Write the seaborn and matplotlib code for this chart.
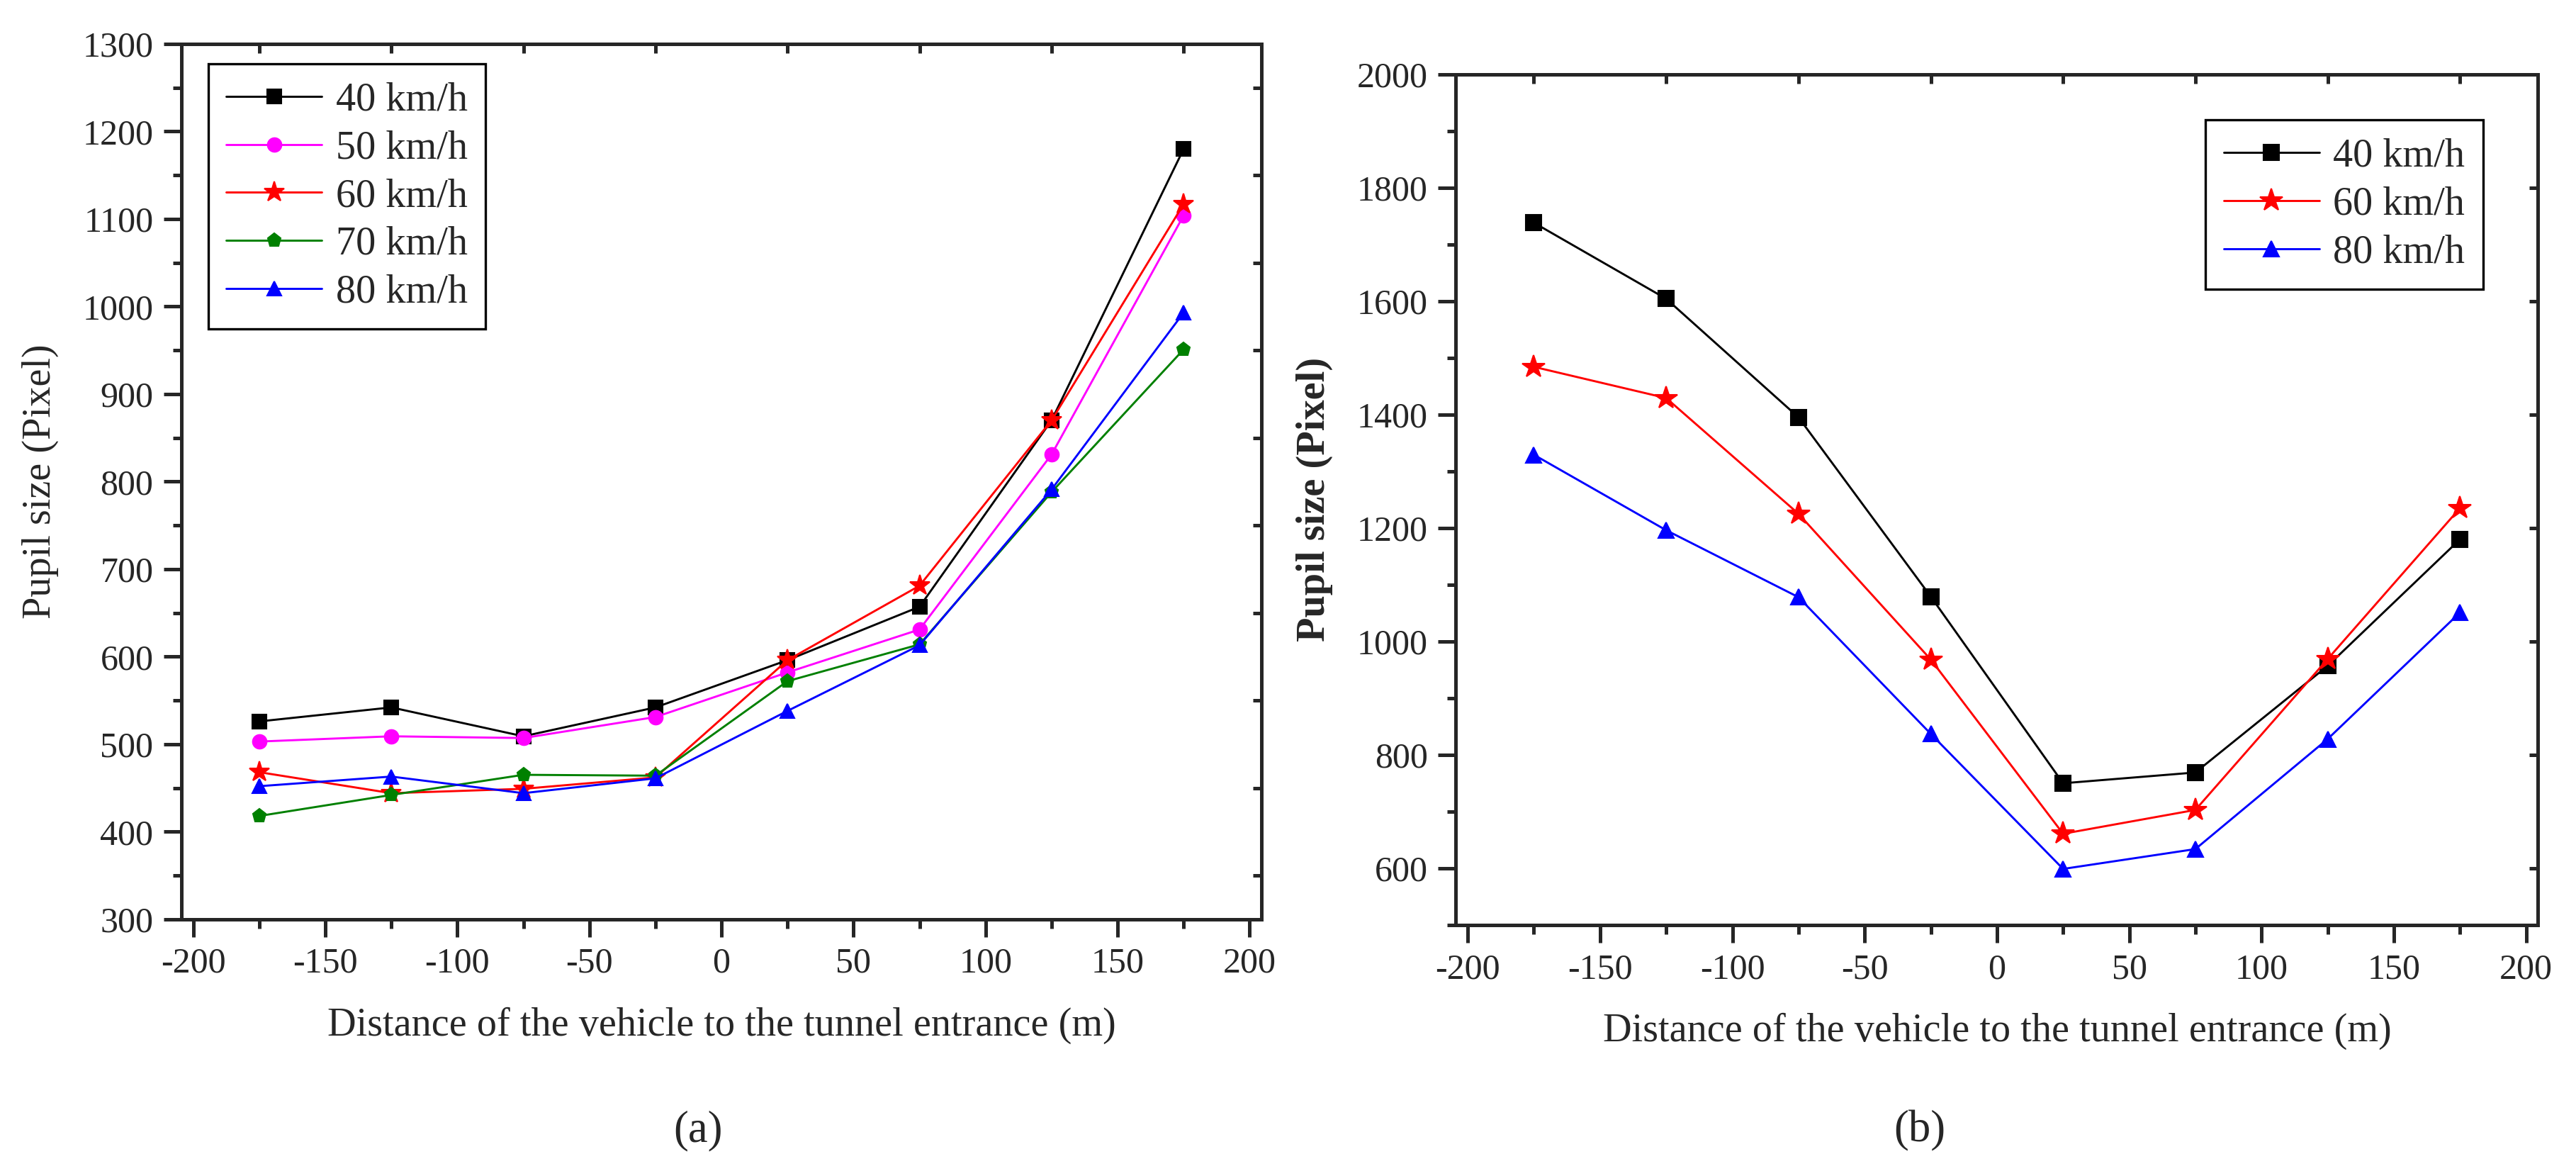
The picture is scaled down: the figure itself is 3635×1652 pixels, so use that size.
import numpy as np
import pandas as pd
import seaborn as sns
import matplotlib
matplotlib.use("Agg")
import matplotlib.pyplot as plt
from matplotlib.ticker import MultipleLocator

# distances to tunnel entrance (m)
dist = [-175, -125, -75, -25, 25, 75, 125, 175]

# (a) pupil size per speed
a40 = [526, 542, 509, 542, 596, 657, 870, 1180]
a50 = [503, 509, 507, 531, 582, 631, 831, 1104]
a60 = [468, 444, 449, 462, 596, 681, 870, 1117]
a70 = [418, 442, 465, 464, 572, 614, 788, 951]
a80 = [452, 463, 444, 461, 538, 613, 791, 993]

# (b) pupil size per speed
b40 = [1738, 1604, 1395, 1079, 750, 769, 957, 1180]
b60 = [1484, 1429, 1225, 968, 661, 703, 969, 1235]
b80 = [1329, 1196, 1078, 837, 599, 634, 828, 1051]

speeds_a = ["40 km/h", "50 km/h", "60 km/h", "70 km/h", "80 km/h"]
speeds_b = ["40 km/h", "60 km/h", "80 km/h"]

sns.set_style("ticks")
plt.rcParams['font.family'] = ['Liberation Serif', 'DejaVu Serif']
plt.rcParams['axes.linewidth'] = 1.2
plt.rcParams['axes.unicode_minus'] = False

fig = plt.figure(figsize=(12.12, 5.5067), dpi=300)
axA = fig.add_axes([0.0704, 0.215, 0.4192, 0.7475])
axB = fig.add_axes([0.565, 0.21, 0.42, 0.7267])


def draw(ax, series, labels, colors, markers, msize):
    for y, lab, c, m in zip(series, labels, colors, markers):
        d = pd.DataFrame({"x": dist, "y": y})
        ms = msize * 1.5 if m == '*' else msize
        sns.lineplot(data=d, x="x", y="y", ax=ax, color=c, marker=m, markersize=ms,
                     markeredgecolor=c, markeredgewidth=0.5, linewidth=0.7, label=lab)


def style_axes(ax, ymin, ymax, ymaj, ymin_step):
    ax.set_xlim(-204.5, 204.5)
    ax.set_ylim(ymin, ymax)
    ax.xaxis.set_major_locator(MultipleLocator(50))
    ax.xaxis.set_minor_locator(MultipleLocator(25))
    ax.yaxis.set_major_locator(MultipleLocator(ymaj))
    ax.yaxis.set_minor_locator(MultipleLocator(ymin_step))
    ax.tick_params(which='major', direction='out', length=6, width=1.2, labelsize=12)
    ax.tick_params(which='minor', direction='out', length=3, width=1.2)
    ax.set_xlabel("Distance of the vehicle to the tunnel entrance (m)", fontsize=13.5, labelpad=9)
    # top/right: inward minor ticks only
    top = ax.secondary_xaxis('top')
    top.set_xticks(np.arange(-175, 200, 50))
    top.set_xticklabels([])
    top.tick_params(direction='in', length=3, width=1.2)
    right = ax.secondary_yaxis('right')
    right.set_yticks(np.arange(ymin + ymin_step, ymax, ymaj))
    right.set_yticklabels([])
    right.tick_params(direction='in', length=3, width=1.2)
    for s in ax.spines.values():
        s.set_linewidth(1.2)


def add_legend(ax, loc, anchor):
    leg = ax.legend(loc=loc, bbox_to_anchor=anchor, borderaxespad=0,
                    fontsize=13.5, handlelength=2.4, handletextpad=0.35,
                    frameon=True, fancybox=False, edgecolor="black", framealpha=1,
                    borderpad=0.45, labelspacing=0.28)
    leg.get_frame().set_linewidth(0.8)


draw(axA, [a40, a50, a60, a70, a80], speeds_a,
     ["black", "#FF00FF", "red", "#008000", "blue"],
     ["s", "o", "*", "p", "^"], 4.7)
style_axes(axA, 300, 1300, 100, 50)
axA.set_ylabel("Pupil size (Pixel)", fontsize=13.5, labelpad=8)
add_legend(axA, "upper left", (0.025, 0.977))

draw(axB, [b40, b60, b80], speeds_b,
     ["black", "red", "blue"], ["s", "*", "^"], 5.3)
style_axes(axB, 500, 2000, 200, 100)
axB.set_yticks(np.arange(600, 2001, 200))
axB.set_ylabel("Pupil size (Pixel)", fontsize=13.5, fontweight="bold", labelpad=8)
add_legend(axB, "upper right", (0.949, 0.946))

fig.text(0.271, 0.034, "(a)", ha="center", va="center", fontsize=15)
fig.text(0.745, 0.034, "(b)", ha="center", va="center", fontsize=15)

fig.savefig("out.png", dpi=300)
